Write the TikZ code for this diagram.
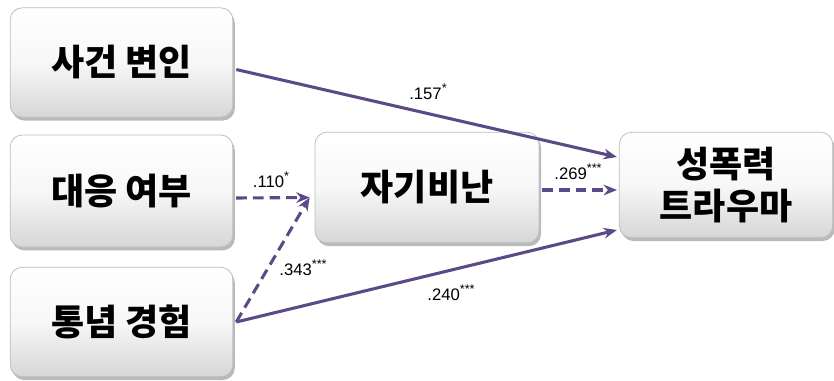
\documentclass[tikz,border=0pt]{standalone}
\usepackage{fontspec}
\setmainfont{Liberation Sans}
\newfontfamily\kor{Noto Sans CJK KR}[BoldFont={* Black}]
\usetikzlibrary{arrows.meta,shadows,calc}
\definecolor{pathpurple}{RGB}{92,74,136}
\definecolor{boxedge}{RGB}{190,190,190}
\newcommand{\sig}[1]{\raisebox{0.42em}{\fontsize{9.5}{9.5}\selectfont #1}}
\tikzset{
  varbox/.style={rounded corners=9pt, draw=boxedge, line width=0.6pt,
    top color=white, bottom color=black!16, middle color=white!97!black,
    drop shadow={shadow xshift=1.5pt, shadow yshift=-2.5pt, opacity=0.45, fill=black!60},
    align=center, inner sep=0pt,
    font=\kor\bfseries\fontsize{27}{33}\selectfont},
  solidpath/.style={draw=pathpurple, line width=2.3pt, -{Stealth[length=10pt,width=8pt]}},
  dashpath/.style={solidpath, dash pattern=on 8pt off 4.5pt},
  coef/.style={font=\fontsize{12.5}{13}\selectfont, inner sep=1pt}
}
\begin{document}
\begin{tikzpicture}[x=0.75pt,y=-0.75pt]
\useasboundingbox (0,0) rectangle (834,380);
% variable boxes
\node[varbox, minimum width=167pt, minimum height=82pt] (ev) at (121.5,62.5) {사건 변인};
\node[varbox, minimum width=167pt, minimum height=84pt] (cope) at (121.5,191) {대응 여부};
\node[varbox, minimum width=167pt, minimum height=82pt] (myth) at (121.5,322) {통념 경험};
\node[varbox, minimum width=168pt, minimum height=83pt] (blame) at (427,187.5) {자기비난};
\node[varbox, minimum width=160pt, minimum height=79pt] (trauma) at (726,185) {성폭력\\[-2pt]트라우마};
% meeting point of the two dashed paths into self-blame
\coordinate (meet) at ($(blame.west)+(-5,10)$);
% paths
\draw[solidpath] ($(ev.east)+(3,7)$) -- ($(trauma.west)+(-2,-28)$);
\node[coef] (c157) at (428,92) {.157\sig{*}};
\draw[dashpath] ($(cope.east)+(3,7)$) -- (meet);
\node[coef] (c110) at (271,180) {.110\sig{*}};
\draw[dashpath] ($(myth.east)+(3,0)$) -- (meet);
\node[coef] (c343) at (303,268) {.343\sig{***}};
\draw[dashpath] ($(blame.east)+(3,2.5)$) -- ($(trauma.west)+(-2,5)$);
\node[coef] (c269) at (578,172) {.269\sig{***}};
\draw[solidpath] ($(myth.east)+(3,0)$) -- ($(trauma.west)+(-2,45)$);
\node[coef] (c240) at (451,293) {.240\sig{***}};
\end{tikzpicture}
\end{document}
